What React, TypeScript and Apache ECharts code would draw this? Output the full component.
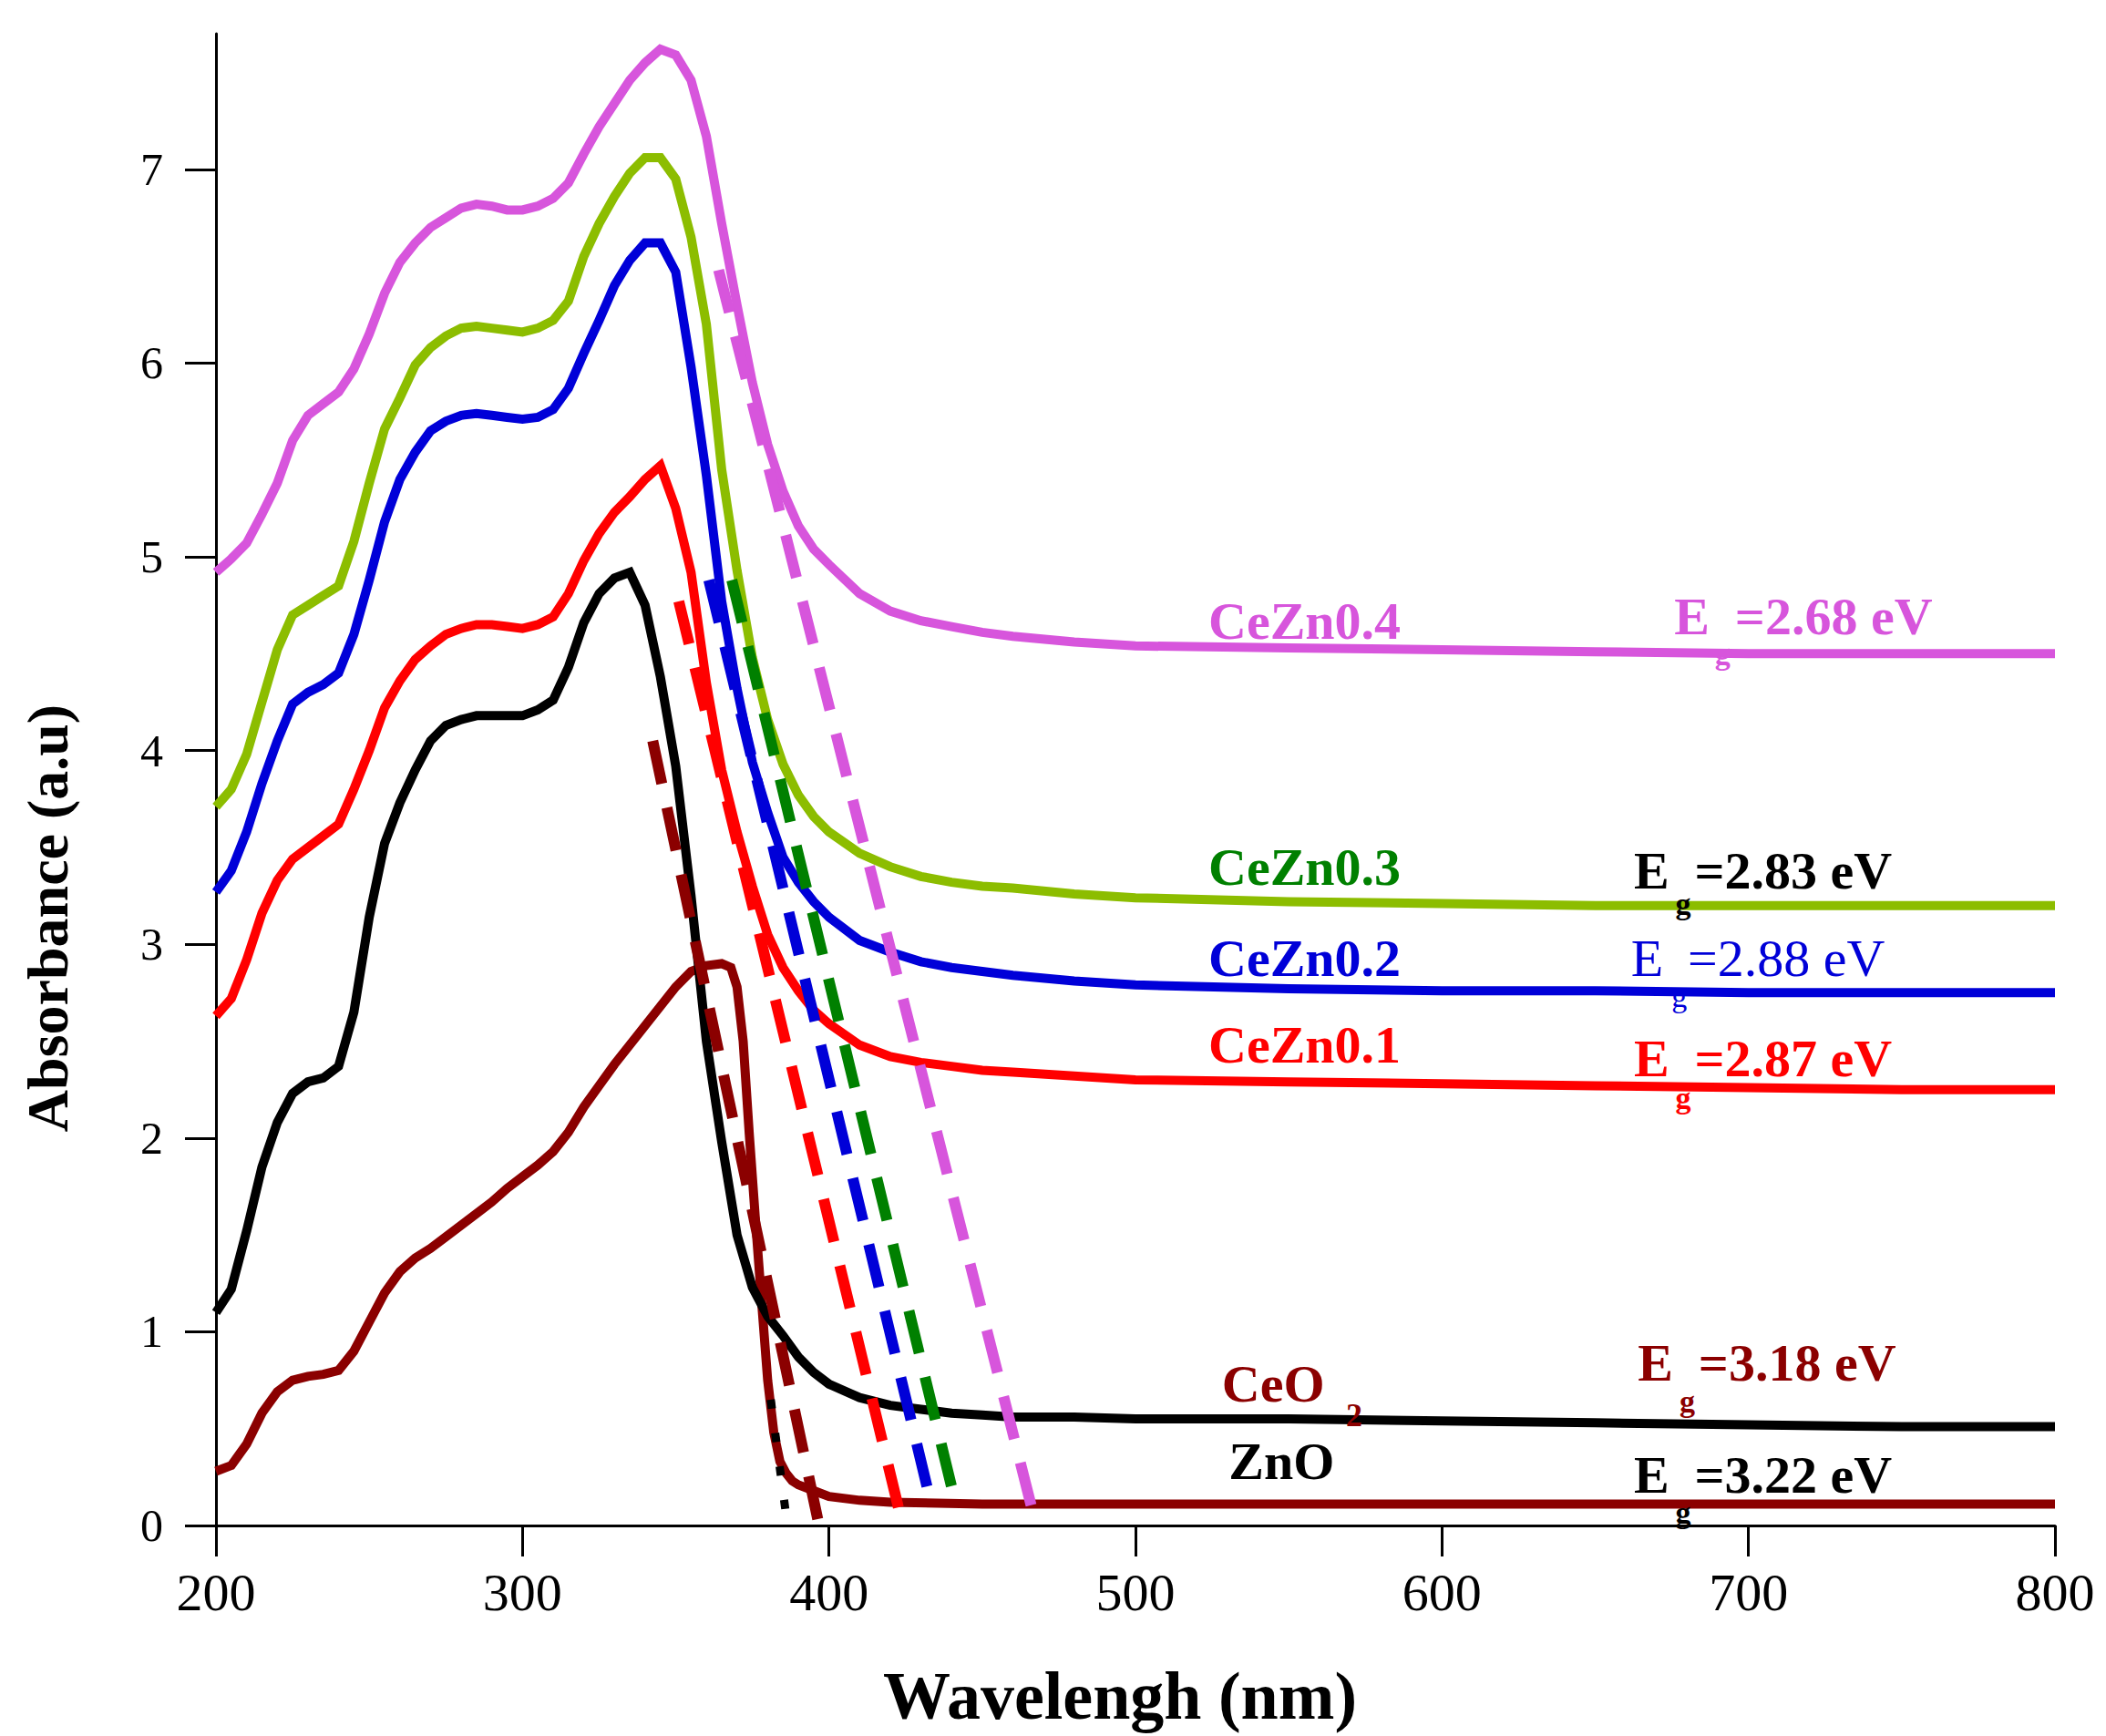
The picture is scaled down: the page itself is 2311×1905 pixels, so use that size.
import { useEffect, useRef } from 'react'
import * as echarts from 'echarts'

// wavelength grid (nm) shared by most spectra
const wavelengths = [
  200, 205, 210, 215, 220, 225, 230, 235, 240, 245, 250, 255, 260, 265, 270, 275, 280, 285, 290, 295,
  300, 305, 310, 315, 320, 325, 330, 335, 340, 345, 350, 355, 360, 365, 370, 375, 380, 385, 390, 395,
  400, 410, 420, 430, 440, 450, 460, 480, 500, 550, 600, 650, 700, 750, 800
]

const ceZn04 = [
  4.92, 4.99, 5.07, 5.22, 5.38, 5.6, 5.73, 5.79, 5.85, 5.97, 6.15, 6.36, 6.52, 6.62, 6.7, 6.75, 6.8, 6.82, 6.81, 6.79,
  6.79, 6.81, 6.85, 6.93, 7.08, 7.22, 7.34, 7.46, 7.55, 7.62, 7.59, 7.46, 7.17, 6.72, 6.3, 5.9, 5.58, 5.34, 5.16, 5.04,
  4.96, 4.81, 4.72, 4.67, 4.64, 4.61, 4.59, 4.56, 4.54, 4.53, 4.52, 4.51, 4.5, 4.5, 4.5
]

const ceZn03 = [
  3.71, 3.8, 3.98, 4.25, 4.52, 4.7, 4.75, 4.8, 4.85, 5.08, 5.38, 5.66, 5.82, 5.99, 6.08, 6.14, 6.18, 6.19, 6.18, 6.17,
  6.16, 6.18, 6.22, 6.32, 6.55, 6.72, 6.86, 6.98, 7.06, 7.06, 6.95, 6.65, 6.2, 5.45, 4.93, 4.48, 4.16, 3.93, 3.77, 3.66,
  3.58, 3.47, 3.4, 3.35, 3.32, 3.3, 3.29, 3.26, 3.24, 3.22, 3.21, 3.2, 3.2, 3.2, 3.2
]

const ceZn02 = [
  3.27, 3.38, 3.58, 3.83, 4.05, 4.24, 4.3, 4.34, 4.4, 4.6, 4.88, 5.18, 5.4, 5.54, 5.65, 5.7, 5.73, 5.74, 5.73, 5.72,
  5.71, 5.72, 5.76, 5.87, 6.05, 6.22, 6.4, 6.53, 6.62, 6.62, 6.47, 5.98, 5.42, 4.77, 4.32, 3.94, 3.68, 3.45, 3.32, 3.22,
  3.14, 3.02, 2.96, 2.91, 2.88, 2.86, 2.84, 2.81, 2.79, 2.77, 2.76, 2.76, 2.75, 2.75, 2.75
]

const ceZn01 = [
  2.63, 2.72, 2.92, 3.16, 3.33, 3.44, 3.5, 3.56, 3.62, 3.8, 4.0, 4.22, 4.36, 4.47, 4.54, 4.6, 4.63, 4.65, 4.65, 4.64,
  4.63, 4.65, 4.69, 4.81, 4.98, 5.12, 5.23, 5.31, 5.4, 5.47, 5.25, 4.92, 4.35, 3.9, 3.58, 3.3, 3.05, 2.88, 2.76, 2.66,
  2.59, 2.48, 2.42, 2.39, 2.37, 2.35, 2.34, 2.32, 2.3, 2.29, 2.28, 2.27, 2.26, 2.25, 2.25
]

const zno = [
  1.1, 1.22, 1.52, 1.85, 2.08, 2.23, 2.29, 2.31, 2.37, 2.65, 3.14, 3.52, 3.73, 3.9, 4.05, 4.13, 4.16, 4.18, 4.18, 4.18,
  4.18, 4.21, 4.26, 4.43, 4.66, 4.81, 4.89, 4.92, 4.75, 4.38, 3.92, 3.25, 2.5, 1.98, 1.5, 1.23, 1.08, 0.98, 0.87, 0.79,
  0.73, 0.66, 0.62, 0.6, 0.58, 0.57, 0.56, 0.56, 0.55, 0.55, 0.54, 0.53, 0.52, 0.51, 0.51
]

// CeO2 has a sharper edge, read on a finer grid
const ceo2Wavelengths = [
  200, 205, 210, 215, 220, 225, 230, 235, 240, 245, 250, 255, 260, 265, 270, 275, 280, 285, 290, 295,
  300, 305, 310, 315, 320, 325, 330, 335, 340, 345, 350, 355, 360, 365, 368, 370, 372, 374, 376, 378,
  380, 382, 384, 386, 388, 390, 395, 400, 410, 420, 450, 500, 600, 700, 800
]

const ceo2 = [
  0.28, 0.31, 0.42, 0.58, 0.69, 0.75, 0.77, 0.78, 0.8, 0.9, 1.05, 1.2, 1.31, 1.38, 1.43, 1.49, 1.55, 1.61, 1.67, 1.74,
  1.8, 1.86, 1.93, 2.03, 2.16, 2.27, 2.38, 2.48, 2.58, 2.68, 2.78, 2.86, 2.89, 2.9, 2.88, 2.78, 2.5, 2.02, 1.58, 1.16,
  0.75, 0.48, 0.33, 0.27, 0.23, 0.21, 0.18, 0.15, 0.13, 0.12, 0.11, 0.11, 0.11, 0.11, 0.11
]

// tangent lines used for the band gap (start / end points in nm, a.u)
const tangentCeZn04 = [[364, 6.48], [466.5, 0.07]]
const tangentCeZn03 = [[368.3, 4.88], [440, 0.2]]
const tangentCeZn02 = [[360.8, 4.88], [432, 0.2]]
const tangentCeZn01 = [[351, 4.77], [423, 0.07]]
const tangentCeO2 = [[342.5, 4.05], [396.5, 0.02]]
const tangentZnO = [[381, 0.65], [386.8, -0.04]]

const xTicks = [200, 300, 400, 500, 600, 700, 800]
const yTicks = [0, 1, 2, 3, 4, 5, 6, 7]

const MAGENTA = '#d755dc'
const LIME = '#8cbd00'
const GREEN = '#008000'
const BLUE = '#0000d8'
const RED = '#ff0000'
const DARKRED = '#8b0000'
const BLACK = '#000000'
const FONT = '"Liberation Serif", "Times New Roman", serif'

// text annotations, anchored in data coordinates (left edge, vertical middle)
const annotations = [
  { text: 'CeZn0.4', at: [523.8, 4.67], color: MAGENTA, size: 58, weight: 'bold' },
  { text: 'E', at: [675.8, 4.69], color: MAGENTA, size: 58, weight: 'bold' },
  { text: 'g', at: [689.0, 4.5], color: MAGENTA, size: 34, weight: 'bold' },
  { text: '=2.68 eV', at: [695.6, 4.69], color: MAGENTA, size: 58, weight: 'bold' },

  { text: 'CeZn0.3', at: [523.8, 3.4], color: GREEN, size: 58, weight: 'bold' },
  { text: 'E', at: [662.6, 3.38], color: BLACK, size: 58, weight: 'bold' },
  { text: 'g', at: [676.2, 3.21], color: BLACK, size: 34, weight: 'bold' },
  { text: '=2.83 eV', at: [682.4, 3.38], color: BLACK, size: 58, weight: 'bold' },

  { text: 'CeZn0.2', at: [523.8, 2.93], color: BLUE, size: 58, weight: 'bold' },
  { text: 'E', at: [661.7, 2.93], color: BLUE, size: 58, weight: 'normal' },
  { text: 'g', at: [674.9, 2.73], color: BLUE, size: 34, weight: 'normal' },
  { text: '=2.88 eV', at: [680.2, 2.93], color: BLUE, size: 58, weight: 'normal' },

  { text: 'CeZn0.1', at: [523.8, 2.48], color: RED, size: 58, weight: 'bold' },
  { text: 'E', at: [662.6, 2.41], color: RED, size: 58, weight: 'bold' },
  { text: 'g', at: [676.2, 2.21], color: RED, size: 34, weight: 'bold' },
  { text: '=2.87 eV', at: [682.4, 2.41], color: RED, size: 58, weight: 'bold' },

  { text: 'CeO', at: [528.2, 0.73], color: DARKRED, size: 58, weight: 'bold' },
  { text: '2', at: [568.7, 0.57], color: DARKRED, size: 36, weight: 'bold' },
  { text: 'E', at: [663.9, 0.84], color: DARKRED, size: 58, weight: 'bold' },
  { text: 'g', at: [677.5, 0.64], color: DARKRED, size: 34, weight: 'bold' },
  { text: '=3.18 eV', at: [683.7, 0.84], color: DARKRED, size: 58, weight: 'bold' },

  { text: 'ZnO', at: [530.4, 0.33], color: BLACK, size: 58, weight: 'bold' },
  { text: 'E', at: [662.6, 0.26], color: BLACK, size: 58, weight: 'bold' },
  { text: 'g', at: [676.2, 0.07], color: BLACK, size: 34, weight: 'bold' },
  { text: '=3.22 eV', at: [682.4, 0.26], color: BLACK, size: 58, weight: 'bold' }
]

const pairs = (xs: number[], ys: number[]) => xs.map((x, i) => [x, ys[i]])

function solid(name: string, data: number[][], color: string, width = 10) {
  return {
    name,
    type: 'line',
    data,
    showSymbol: false,
    symbol: 'none',
    lineStyle: { color, width, cap: 'butt', join: 'miter' },
    itemStyle: { color }
  }
}

function dashed(name: string, data: number[][], color: string, dash: number[], width = 12) {
  return {
    name,
    type: 'line',
    data,
    showSymbol: false,
    symbol: 'none',
    clip: false,
    z: 3,
    lineStyle: { color, width, type: dash, cap: 'butt' },
    itemStyle: { color }
  }
}

export default function App() {
  const chartRef = useRef<HTMLDivElement>(null)

  useEffect(() => {
    if (!chartRef.current) return
    document.body.style.margin = '0'

    const chart = echarts.init(chartRef.current, null, { renderer: 'svg' })

    const option: any = {
      animation: false,
      backgroundColor: '#ffffff',
      grid: { left: 237, right: 56, top: 37, bottom: 231 },
      xAxis: {
        type: 'value',
        min: 200,
        max: 800,
        interval: 100,
        name: 'Wavelengh (nm)',
        nameLocation: 'middle',
        nameGap: 150,
        nameTextStyle: {
          fontFamily: FONT,
          fontSize: 74,
          fontWeight: 'bold',
          color: '#000',
          padding: [0, 34, 0, 0]
        },
        axisLine: { lineStyle: { color: '#000', width: 3 } },
        axisTick: { length: 34, customValues: xTicks, lineStyle: { color: '#000', width: 3 } },
        axisLabel: { customValues: xTicks, fontFamily: FONT, fontSize: 58, color: '#000', margin: 44 },
        splitLine: { show: false }
      },
      yAxis: {
        type: 'value',
        min: 0,
        max: 7.7,
        interval: 1,
        name: 'Absorbance (a.u)',
        nameLocation: 'middle',
        nameGap: 153,
        nameTextStyle: {
          fontFamily: FONT,
          fontSize: 64,
          fontWeight: 'bold',
          color: '#000',
          padding: [0, 304, 0, 0]
        },
        axisLine: { show: true, lineStyle: { color: '#000', width: 3 } },
        axisTick: { show: true, length: 34, customValues: yTicks, lineStyle: { color: '#000', width: 3 } },
        axisLabel: { customValues: yTicks, fontFamily: FONT, fontSize: 50, color: '#000', margin: 58 },
        splitLine: { show: false }
      },
      series: [
        solid('CeO2', pairs(ceo2Wavelengths, ceo2), DARKRED),
        solid('ZnO', pairs(wavelengths, zno), BLACK),
        solid('CeZn0.1', pairs(wavelengths, ceZn01), RED),
        solid('CeZn0.2', pairs(wavelengths, ceZn02), BLUE),
        solid('CeZn0.3', pairs(wavelengths, ceZn03), LIME),
        solid('CeZn0.4', pairs(wavelengths, ceZn04), MAGENTA),
        dashed('CeO2 tangent', tangentCeO2, DARKRED, [48, 27]),
        dashed('CeZn0.1 tangent', tangentCeZn01, RED, [48, 27]),
        dashed('CeZn0.2 tangent', tangentCeZn02, BLUE, [48, 27]),
        dashed('CeZn0.3 tangent', tangentCeZn03, GREEN, [48, 27]),
        dashed('CeZn0.4 tangent', tangentCeZn04, MAGENTA, [48, 27]),
        dashed('ZnO tangent', tangentZnO, BLACK, [10, 27], 9)
      ]
    }

    chart.setOption(option)

    // place the annotations once the axes exist
    const graphic = annotations.map(a => {
      const [px, py] = chart.convertToPixel({ gridIndex: 0 }, a.at) as number[]
      return {
        type: 'text',
        x: px,
        y: py,
        z: 10,
        style: {
          text: a.text,
          fill: a.color,
          font: `${a.weight} ${a.size}px ${FONT}`,
          align: 'left',
          verticalAlign: 'middle'
        }
      }
    })
    chart.setOption({ graphic })

    return () => {
      chart.dispose()
    }
  }, [])

  return <div ref={chartRef} style={{ width: '2311px', height: '1905px' }} />
}
